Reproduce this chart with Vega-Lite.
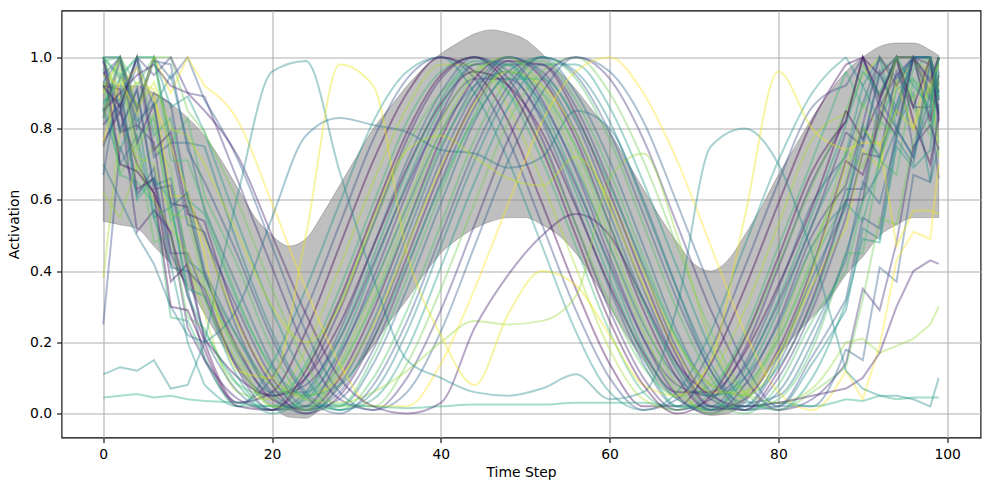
{
"$schema": "https://vega.github.io/schema/vega-lite/v6.json",
"width": 919, "height": 427,
"autosize": {"type": "none"},
"padding": {"left": 61.5, "top": 10.5, "right": 8.5, "bottom": 52.5},
"background": "white",
"config": {
"view": {"stroke": "black", "strokeWidth": 1.1},
"axis": {"labelFont": "DejaVu Sans", "labelFontSize": 13.9, "labelColor": "black", "titleFont": "DejaVu Sans", "titleFontSize": 13.9, "titleFontWeight": "normal", "titleColor": "black", "tickColor": "black", "tickSize": 4.9, "tickWidth": 1.1, "gridColor": "#b0b0b0", "gridWidth": 1.1, "domain": false, "labelPadding": 4.9}
},
"datasets": {
"band": [
{"t":0,"lo":0.54,"hi":0.93},{"t":2,"lo":0.53,"hi":0.92},{"t":4,"lo":0.52,"hi":0.92},{"t":6,"lo":0.47,"hi":0.9},{"t":8,"lo":0.42,"hi":0.87},{"t":10,"lo":0.36,"hi":0.83},{"t":12,"lo":0.28,"hi":0.78},{"t":14,"lo":0.2,"hi":0.71},{"t":16,"lo":0.12,"hi":0.63},{"t":18,"lo":0.06,"hi":0.55},{"t":20,"lo":0.02,"hi":0.5},{"t":22,"lo":-0.01,"hi":0.47},{"t":24,"lo":-0.013,"hi":0.49},{"t":26,"lo":0.02,"hi":0.56},{"t":28,"lo":0.07,"hi":0.64},{"t":30,"lo":0.13,"hi":0.72},{"t":32,"lo":0.19,"hi":0.8},{"t":34,"lo":0.26,"hi":0.86},{"t":36,"lo":0.32,"hi":0.92},{"t":38,"lo":0.39,"hi":0.97},{"t":40,"lo":0.45,"hi":1.01},{"t":42,"lo":0.49,"hi":1.04},{"t":44,"lo":0.52,"hi":1.066},{"t":46,"lo":0.54,"hi":1.077},{"t":48,"lo":0.55,"hi":1.068},{"t":50,"lo":0.55,"hi":1.05},{"t":52,"lo":0.53,"hi":1.01},{"t":54,"lo":0.5,"hi":0.96},{"t":56,"lo":0.45,"hi":0.91},{"t":58,"lo":0.38,"hi":0.85},{"t":60,"lo":0.3,"hi":0.79},{"t":62,"lo":0.22,"hi":0.71},{"t":64,"lo":0.15,"hi":0.63},{"t":66,"lo":0.08,"hi":0.55},{"t":68,"lo":0.04,"hi":0.48},{"t":70,"lo":0.01,"hi":0.42},{"t":72,"lo":-0.005,"hi":0.4},{"t":74,"lo":0.0,"hi":0.43},{"t":76,"lo":0.03,"hi":0.5},{"t":78,"lo":0.09,"hi":0.58},{"t":80,"lo":0.16,"hi":0.67},{"t":82,"lo":0.22,"hi":0.75},{"t":84,"lo":0.27,"hi":0.83},{"t":86,"lo":0.32,"hi":0.9},{"t":88,"lo":0.39,"hi":0.96},{"t":90,"lo":0.44,"hi":1.0},{"t":92,"lo":0.5,"hi":1.03},{"t":94,"lo":0.53,"hi":1.04},{"t":96,"lo":0.55,"hi":1.04},{"t":98,"lo":0.55,"hi":1.02},{"t":99,"lo":0.55,"hi":1.005}
],
"lines": [
{"k":17,"t":0,"v":0.85},{"k":17,"t":2,"v":0.7},{"k":17,"t":4,"v":0.78},{"k":17,"t":6,"v":0.55},{"k":17,"t":8,"v":0.42},{"k":17,"t":10,"v":0.2},{"k":17,"t":12,"v":0.08},{"k":17,"t":16,"v":0.02},{"k":17,"t":20,"v":0.14},{"k":17,"t":24,"v":0.35},{"k":17,"t":28,"v":0.59},{"k":17,"t":32,"v":0.82},{"k":17,"t":36,"v":0.96},{"k":17,"t":40,"v":1.0},{"k":17,"t":44,"v":0.9},{"k":17,"t":48,"v":0.71},{"k":17,"t":52,"v":0.47},{"k":17,"t":56,"v":0.23},{"k":17,"t":60,"v":0.06},{"k":17,"t":64,"v":0.01},{"k":17,"t":68,"v":0.06},{"k":17,"t":72,"v":0.23},{"k":17,"t":76,"v":0.47},{"k":17,"t":80,"v":0.71},{"k":17,"t":84,"v":0.9},{"k":17,"t":88,"v":1.0},{"k":17,"t":90,"v":0.92},{"k":17,"t":92,"v":1.0},{"k":17,"t":94,"v":0.8},{"k":17,"t":96,"v":0.9},{"k":17,"t":98,"v":0.65},{"k":17,"t":99,"v":0.75},
{"k":8,"t":0,"v":0.25},{"k":8,"t":2,"v":0.75},{"k":8,"t":4,"v":0.62},{"k":8,"t":6,"v":0.66},{"k":8,"t":8,"v":0.45},{"k":8,"t":10,"v":0.35},{"k":8,"t":12,"v":0.15},{"k":8,"t":16,"v":0.03},{"k":8,"t":20,"v":0.1},{"k":8,"t":24,"v":0.29},{"k":8,"t":28,"v":0.53},{"k":8,"t":32,"v":0.77},{"k":8,"t":36,"v":0.94},{"k":8,"t":40,"v":1.0},{"k":8,"t":44,"v":0.94},{"k":8,"t":48,"v":0.77},{"k":8,"t":52,"v":0.53},{"k":8,"t":56,"v":0.29},{"k":8,"t":60,"v":0.1},{"k":8,"t":64,"v":0.01},{"k":8,"t":68,"v":0.04},{"k":8,"t":72,"v":0.18},{"k":8,"t":76,"v":0.41},{"k":8,"t":80,"v":0.65},{"k":8,"t":84,"v":0.86},{"k":8,"t":88,"v":0.92},{"k":8,"t":90,"v":1.0},{"k":8,"t":92,"v":0.88},{"k":8,"t":94,"v":1.0},{"k":8,"t":96,"v":0.74},{"k":8,"t":98,"v":0.85},{"k":8,"t":99,"v":0.66},
{"k":0,"t":0,"v":0.76},{"k":0,"t":2,"v":0.85},{"k":0,"t":4,"v":0.7},{"k":0,"t":6,"v":0.62},{"k":0,"t":8,"v":0.5},{"k":0,"t":10,"v":0.33},{"k":0,"t":12,"v":0.2},{"k":0,"t":16,"v":0.03},{"k":0,"t":20,"v":0.06},{"k":0,"t":24,"v":0.23},{"k":0,"t":28,"v":0.47},{"k":0,"t":32,"v":0.71},{"k":0,"t":36,"v":0.9},{"k":0,"t":40,"v":1.0},{"k":0,"t":44,"v":0.96},{"k":0,"t":48,"v":0.82},{"k":0,"t":52,"v":0.59},{"k":0,"t":56,"v":0.35},{"k":0,"t":60,"v":0.14},{"k":0,"t":64,"v":0.02},{"k":0,"t":68,"v":0.02},{"k":0,"t":72,"v":0.14},{"k":0,"t":76,"v":0.35},{"k":0,"t":80,"v":0.59},{"k":0,"t":84,"v":0.82},{"k":0,"t":88,"v":0.98},{"k":0,"t":90,"v":1.0},{"k":0,"t":92,"v":0.95},{"k":0,"t":94,"v":1.0},{"k":0,"t":96,"v":0.82},{"k":0,"t":98,"v":0.7},{"k":0,"t":99,"v":0.83},
{"k":29,"t":0,"v":0.38},{"k":29,"t":2,"v":0.8},{"k":29,"t":4,"v":0.72},{"k":29,"t":6,"v":0.7},{"k":29,"t":8,"v":0.55},{"k":29,"t":10,"v":0.42},{"k":29,"t":12,"v":0.28},{"k":29,"t":16,"v":0.06},{"k":29,"t":20,"v":0.04},{"k":29,"t":24,"v":0.18},{"k":29,"t":28,"v":0.41},{"k":29,"t":32,"v":0.65},{"k":29,"t":36,"v":0.86},{"k":29,"t":40,"v":0.98},{"k":29,"t":44,"v":0.98},{"k":29,"t":48,"v":0.86},{"k":29,"t":52,"v":0.65},{"k":29,"t":56,"v":0.41},{"k":29,"t":60,"v":0.18},{"k":29,"t":64,"v":0.04},{"k":29,"t":68,"v":0.01},{"k":29,"t":72,"v":0.1},{"k":29,"t":76,"v":0.29},{"k":29,"t":80,"v":0.53},{"k":29,"t":84,"v":0.77},{"k":29,"t":88,"v":0.84},{"k":29,"t":90,"v":0.95},{"k":29,"t":92,"v":1.0},{"k":29,"t":94,"v":0.92},{"k":29,"t":96,"v":0.99},{"k":29,"t":98,"v":0.96},{"k":29,"t":99,"v":0.72},
{"k":22,"t":0,"v":0.97},{"k":22,"t":2,"v":0.67},{"k":22,"t":4,"v":0.65},{"k":22,"t":6,"v":0.59},{"k":22,"t":8,"v":0.27},{"k":22,"t":10,"v":0.26},{"k":22,"t":12,"v":0.16},{"k":22,"t":16,"v":0.02},{"k":22,"t":20,"v":0.02},{"k":22,"t":24,"v":0.14},{"k":22,"t":28,"v":0.35},{"k":22,"t":32,"v":0.59},{"k":22,"t":36,"v":0.82},{"k":22,"t":40,"v":0.96},{"k":22,"t":44,"v":1.0},{"k":22,"t":48,"v":0.9},{"k":22,"t":52,"v":0.71},{"k":22,"t":56,"v":0.47},{"k":22,"t":60,"v":0.23},{"k":22,"t":64,"v":0.06},{"k":22,"t":68,"v":0.01},{"k":22,"t":72,"v":0.06},{"k":22,"t":76,"v":0.23},{"k":22,"t":80,"v":0.47},{"k":22,"t":84,"v":0.71},{"k":22,"t":88,"v":0.96},{"k":22,"t":90,"v":0.86},{"k":22,"t":92,"v":0.96},{"k":22,"t":94,"v":1.0},{"k":22,"t":96,"v":1.0},{"k":22,"t":98,"v":0.8},{"k":22,"t":99,"v":0.91},
{"k":4,"t":0,"v":0.81},{"k":4,"t":2,"v":0.87},{"k":4,"t":4,"v":0.51},{"k":4,"t":6,"v":0.57},{"k":4,"t":8,"v":0.51},{"k":4,"t":10,"v":0.24},{"k":4,"t":12,"v":0.15},{"k":4,"t":16,"v":0.04},{"k":4,"t":20,"v":0.01},{"k":4,"t":24,"v":0.1},{"k":4,"t":28,"v":0.29},{"k":4,"t":32,"v":0.53},{"k":4,"t":36,"v":0.77},{"k":4,"t":40,"v":0.94},{"k":4,"t":44,"v":1.0},{"k":4,"t":48,"v":0.94},{"k":4,"t":52,"v":0.77},{"k":4,"t":56,"v":0.53},{"k":4,"t":60,"v":0.29},{"k":4,"t":64,"v":0.1},{"k":4,"t":68,"v":0.01},{"k":4,"t":72,"v":0.04},{"k":4,"t":76,"v":0.18},{"k":4,"t":80,"v":0.41},{"k":4,"t":84,"v":0.65},{"k":4,"t":88,"v":0.82},{"k":4,"t":90,"v":1.0},{"k":4,"t":92,"v":0.86},{"k":4,"t":94,"v":0.95},{"k":4,"t":96,"v":1.0},{"k":4,"t":98,"v":0.98},{"k":4,"t":99,"v":0.82},
{"k":25,"t":0,"v":0.93},{"k":25,"t":2,"v":0.67},{"k":25,"t":4,"v":0.76},{"k":25,"t":6,"v":0.48},{"k":25,"t":8,"v":0.5},{"k":25,"t":10,"v":0.27},{"k":25,"t":12,"v":0.24},{"k":25,"t":16,"v":0.08},{"k":25,"t":20,"v":0.05},{"k":25,"t":24,"v":0.13},{"k":25,"t":28,"v":0.31},{"k":25,"t":32,"v":0.53},{"k":25,"t":36,"v":0.75},{"k":25,"t":40,"v":0.9},{"k":25,"t":44,"v":0.96},{"k":25,"t":48,"v":0.9},{"k":25,"t":52,"v":0.75},{"k":25,"t":56,"v":0.53},{"k":25,"t":60,"v":0.31},{"k":25,"t":64,"v":0.13},{"k":25,"t":68,"v":0.05},{"k":25,"t":72,"v":0.08},{"k":25,"t":76,"v":0.21},{"k":25,"t":80,"v":0.42},{"k":25,"t":84,"v":0.64},{"k":25,"t":88,"v":0.85},{"k":25,"t":90,"v":0.98},{"k":25,"t":92,"v":0.89},{"k":25,"t":94,"v":1.0},{"k":25,"t":96,"v":0.86},{"k":25,"t":98,"v":0.78},{"k":25,"t":99,"v":0.93},
{"k":11,"t":0,"v":0.75},{"k":11,"t":2,"v":0.87},{"k":11,"t":4,"v":0.61},{"k":11,"t":6,"v":0.69},{"k":11,"t":8,"v":0.41},{"k":11,"t":10,"v":0.4},{"k":11,"t":12,"v":0.21},{"k":11,"t":16,"v":0.06},{"k":11,"t":20,"v":0.01},{"k":11,"t":24,"v":0.06},{"k":11,"t":28,"v":0.23},{"k":11,"t":32,"v":0.47},{"k":11,"t":36,"v":0.71},{"k":11,"t":40,"v":0.9},{"k":11,"t":44,"v":1.0},{"k":11,"t":48,"v":0.96},{"k":11,"t":52,"v":0.82},{"k":11,"t":56,"v":0.59},{"k":11,"t":60,"v":0.35},{"k":11,"t":64,"v":0.14},{"k":11,"t":68,"v":0.02},{"k":11,"t":72,"v":0.02},{"k":11,"t":76,"v":0.14},{"k":11,"t":80,"v":0.35},{"k":11,"t":84,"v":0.59},{"k":11,"t":88,"v":0.72},{"k":11,"t":90,"v":0.87},{"k":11,"t":92,"v":1.0},{"k":11,"t":94,"v":0.94},{"k":11,"t":96,"v":1.0},{"k":11,"t":98,"v":1.0},{"k":11,"t":99,"v":0.84},
{"k":1,"t":0,"v":0.92},{"k":1,"t":2,"v":0.91},{"k":1,"t":4,"v":0.63},{"k":1,"t":6,"v":0.66},{"k":1,"t":8,"v":0.37},{"k":1,"t":10,"v":0.42},{"k":1,"t":12,"v":0.21},{"k":1,"t":16,"v":0.1},{"k":1,"t":20,"v":0.05},{"k":1,"t":24,"v":0.1},{"k":1,"t":28,"v":0.25},{"k":1,"t":32,"v":0.47},{"k":1,"t":36,"v":0.69},{"k":1,"t":40,"v":0.87},{"k":1,"t":44,"v":0.96},{"k":1,"t":48,"v":0.92},{"k":1,"t":52,"v":0.79},{"k":1,"t":56,"v":0.58},{"k":1,"t":60,"v":0.36},{"k":1,"t":64,"v":0.17},{"k":1,"t":68,"v":0.06},{"k":1,"t":72,"v":0.06},{"k":1,"t":76,"v":0.17},{"k":1,"t":80,"v":0.36},{"k":1,"t":84,"v":0.58},{"k":1,"t":88,"v":0.85},{"k":1,"t":90,"v":0.77},{"k":1,"t":92,"v":0.88},{"k":1,"t":94,"v":1.0},{"k":1,"t":96,"v":1.0},{"k":1,"t":98,"v":0.82},{"k":1,"t":99,"v":0.95},
{"k":19,"t":0,"v":0.86},{"k":19,"t":2,"v":0.74},{"k":19,"t":4,"v":0.85},{"k":19,"t":6,"v":0.55},{"k":19,"t":8,"v":0.58},{"k":19,"t":10,"v":0.35},{"k":19,"t":12,"v":0.33},{"k":19,"t":16,"v":0.1},{"k":19,"t":20,"v":0.01},{"k":19,"t":24,"v":0.04},{"k":19,"t":28,"v":0.18},{"k":19,"t":32,"v":0.41},{"k":19,"t":36,"v":0.65},{"k":19,"t":40,"v":0.86},{"k":19,"t":44,"v":0.98},{"k":19,"t":48,"v":0.98},{"k":19,"t":52,"v":0.86},{"k":19,"t":56,"v":0.65},{"k":19,"t":60,"v":0.41},{"k":19,"t":64,"v":0.18},{"k":19,"t":68,"v":0.04},{"k":19,"t":72,"v":0.01},{"k":19,"t":76,"v":0.1},{"k":19,"t":80,"v":0.29},{"k":19,"t":84,"v":0.53},{"k":19,"t":88,"v":0.73},{"k":19,"t":90,"v":0.92},{"k":19,"t":92,"v":0.82},{"k":19,"t":94,"v":0.93},{"k":19,"t":96,"v":1.0},{"k":19,"t":98,"v":1.0},{"k":19,"t":99,"v":0.88},
{"k":6,"t":0,"v":1.0},{"k":6,"t":2,"v":0.79},{"k":6,"t":4,"v":0.81},{"k":6,"t":6,"v":0.76},{"k":6,"t":8,"v":0.45},{"k":6,"t":10,"v":0.45},{"k":6,"t":12,"v":0.33},{"k":6,"t":16,"v":0.13},{"k":6,"t":20,"v":0.05},{"k":6,"t":24,"v":0.08},{"k":6,"t":28,"v":0.21},{"k":6,"t":32,"v":0.42},{"k":6,"t":36,"v":0.64},{"k":6,"t":40,"v":0.83},{"k":6,"t":44,"v":0.94},{"k":6,"t":48,"v":0.94},{"k":6,"t":52,"v":0.83},{"k":6,"t":56,"v":0.64},{"k":6,"t":60,"v":0.42},{"k":6,"t":64,"v":0.21},{"k":6,"t":68,"v":0.08},{"k":6,"t":72,"v":0.05},{"k":6,"t":76,"v":0.13},{"k":6,"t":80,"v":0.31},{"k":6,"t":84,"v":0.53},{"k":6,"t":88,"v":0.79},{"k":6,"t":90,"v":0.75},{"k":6,"t":92,"v":0.96},{"k":6,"t":94,"v":0.84},{"k":6,"t":96,"v":1.0},{"k":6,"t":98,"v":0.88},{"k":6,"t":99,"v":1.0},
{"k":27,"t":0,"v":0.91},{"k":27,"t":2,"v":1.0},{"k":27,"t":4,"v":0.68},{"k":27,"t":6,"v":0.75},{"k":27,"t":8,"v":0.69},{"k":27,"t":10,"v":0.42},{"k":27,"t":12,"v":0.32},{"k":27,"t":16,"v":0.14},{"k":27,"t":20,"v":0.02},{"k":27,"t":24,"v":0.02},{"k":27,"t":28,"v":0.14},{"k":27,"t":32,"v":0.35},{"k":27,"t":36,"v":0.59},{"k":27,"t":40,"v":0.82},{"k":27,"t":44,"v":0.96},{"k":27,"t":48,"v":1.0},{"k":27,"t":52,"v":0.9},{"k":27,"t":56,"v":0.71},{"k":27,"t":60,"v":0.47},{"k":27,"t":64,"v":0.23},{"k":27,"t":68,"v":0.06},{"k":27,"t":72,"v":0.01},{"k":27,"t":76,"v":0.06},{"k":27,"t":80,"v":0.23},{"k":27,"t":84,"v":0.47},{"k":27,"t":88,"v":0.65},{"k":27,"t":90,"v":0.87},{"k":27,"t":92,"v":0.8},{"k":27,"t":94,"v":1.0},{"k":27,"t":96,"v":0.88},{"k":27,"t":98,"v":1.0},{"k":27,"t":99,"v":0.93},
{"k":14,"t":0,"v":1.0},{"k":14,"t":2,"v":0.79},{"k":14,"t":4,"v":0.91},{"k":14,"t":6,"v":0.64},{"k":14,"t":8,"v":0.66},{"k":14,"t":10,"v":0.43},{"k":14,"t":12,"v":0.39},{"k":14,"t":16,"v":0.17},{"k":14,"t":20,"v":0.06},{"k":14,"t":24,"v":0.06},{"k":14,"t":28,"v":0.17},{"k":14,"t":32,"v":0.36},{"k":14,"t":36,"v":0.58},{"k":14,"t":40,"v":0.79},{"k":14,"t":44,"v":0.92},{"k":14,"t":48,"v":0.96},{"k":14,"t":52,"v":0.87},{"k":14,"t":56,"v":0.69},{"k":14,"t":60,"v":0.47},{"k":14,"t":64,"v":0.25},{"k":14,"t":68,"v":0.1},{"k":14,"t":72,"v":0.05},{"k":14,"t":76,"v":0.1},{"k":14,"t":80,"v":0.25},{"k":14,"t":84,"v":0.47},{"k":14,"t":88,"v":0.59},{"k":14,"t":90,"v":0.76},{"k":14,"t":92,"v":0.95},{"k":14,"t":94,"v":0.86},{"k":14,"t":96,"v":1.0},{"k":14,"t":98,"v":1.0},{"k":14,"t":99,"v":0.84},
{"k":2,"t":0,"v":0.83},{"k":2,"t":2,"v":0.99},{"k":2,"t":4,"v":0.76},{"k":2,"t":6,"v":0.87},{"k":2,"t":8,"v":0.59},{"k":2,"t":10,"v":0.58},{"k":2,"t":12,"v":0.39},{"k":2,"t":16,"v":0.18},{"k":2,"t":20,"v":0.04},{"k":2,"t":24,"v":0.01},{"k":2,"t":28,"v":0.1},{"k":2,"t":32,"v":0.29},{"k":2,"t":36,"v":0.53},{"k":2,"t":40,"v":0.77},{"k":2,"t":44,"v":0.94},{"k":2,"t":48,"v":1.0},{"k":2,"t":52,"v":0.94},{"k":2,"t":56,"v":0.77},{"k":2,"t":60,"v":0.53},{"k":2,"t":64,"v":0.29},{"k":2,"t":68,"v":0.1},{"k":2,"t":72,"v":0.01},{"k":2,"t":76,"v":0.04},{"k":2,"t":80,"v":0.18},{"k":2,"t":84,"v":0.41},{"k":2,"t":88,"v":0.71},{"k":2,"t":90,"v":0.67},{"k":2,"t":92,"v":0.82},{"k":2,"t":94,"v":1.0},{"k":2,"t":96,"v":1.0},{"k":2,"t":98,"v":0.9},{"k":2,"t":99,"v":1.0},
{"k":23,"t":0,"v":0.99},{"k":23,"t":2,"v":1.0},{"k":23,"t":4,"v":0.77},{"k":23,"t":6,"v":0.83},{"k":23,"t":8,"v":0.54},{"k":23,"t":10,"v":0.59},{"k":23,"t":12,"v":0.38},{"k":23,"t":16,"v":0.21},{"k":23,"t":20,"v":0.08},{"k":23,"t":24,"v":0.05},{"k":23,"t":28,"v":0.13},{"k":23,"t":32,"v":0.31},{"k":23,"t":36,"v":0.53},{"k":23,"t":40,"v":0.75},{"k":23,"t":44,"v":0.9},{"k":23,"t":48,"v":0.96},{"k":23,"t":52,"v":0.9},{"k":23,"t":56,"v":0.75},{"k":23,"t":60,"v":0.53},{"k":23,"t":64,"v":0.31},{"k":23,"t":68,"v":0.13},{"k":23,"t":72,"v":0.05},{"k":23,"t":76,"v":0.08},{"k":23,"t":80,"v":0.21},{"k":23,"t":84,"v":0.42},{"k":23,"t":88,"v":0.6},{"k":23,"t":90,"v":0.81},{"k":23,"t":92,"v":0.71},{"k":23,"t":94,"v":0.85},{"k":23,"t":96,"v":1.0},{"k":23,"t":98,"v":1.0},{"k":23,"t":99,"v":0.88},
{"k":9,"t":0,"v":0.92},{"k":9,"t":2,"v":0.84},{"k":9,"t":4,"v":0.98},{"k":9,"t":6,"v":0.72},{"k":9,"t":8,"v":0.76},{"k":9,"t":10,"v":0.53},{"k":9,"t":12,"v":0.51},{"k":9,"t":16,"v":0.23},{"k":9,"t":20,"v":0.06},{"k":9,"t":24,"v":0.01},{"k":9,"t":28,"v":0.06},{"k":9,"t":32,"v":0.23},{"k":9,"t":36,"v":0.47},{"k":9,"t":40,"v":0.71},{"k":9,"t":44,"v":0.9},{"k":9,"t":48,"v":1.0},{"k":9,"t":52,"v":0.96},{"k":9,"t":56,"v":0.82},{"k":9,"t":60,"v":0.59},{"k":9,"t":64,"v":0.35},{"k":9,"t":68,"v":0.14},{"k":9,"t":72,"v":0.02},{"k":9,"t":76,"v":0.02},{"k":9,"t":80,"v":0.14},{"k":9,"t":84,"v":0.35},{"k":9,"t":88,"v":0.63},{"k":9,"t":90,"v":0.63},{"k":9,"t":92,"v":0.88},{"k":9,"t":94,"v":0.8},{"k":9,"t":96,"v":1.0},{"k":9,"t":98,"v":0.94},{"k":9,"t":99,"v":1.0},
{"k":31,"t":0,"v":1.0},{"k":31,"t":2,"v":0.88},{"k":31,"t":4,"v":0.93},{"k":31,"t":6,"v":0.91},{"k":31,"t":8,"v":0.61},{"k":31,"t":10,"v":0.61},{"k":31,"t":12,"v":0.49},{"k":31,"t":16,"v":0.25},{"k":31,"t":20,"v":0.1},{"k":31,"t":24,"v":0.05},{"k":31,"t":28,"v":0.1},{"k":31,"t":32,"v":0.25},{"k":31,"t":36,"v":0.47},{"k":31,"t":40,"v":0.69},{"k":31,"t":44,"v":0.87},{"k":31,"t":48,"v":0.96},{"k":31,"t":52,"v":0.92},{"k":31,"t":56,"v":0.79},{"k":31,"t":60,"v":0.58},{"k":31,"t":64,"v":0.36},{"k":31,"t":68,"v":0.17},{"k":31,"t":72,"v":0.06},{"k":31,"t":76,"v":0.06},{"k":31,"t":80,"v":0.17},{"k":31,"t":84,"v":0.36},{"k":31,"t":88,"v":0.52},{"k":31,"t":90,"v":0.74},{"k":31,"t":92,"v":0.69},{"k":31,"t":94,"v":0.93},{"k":31,"t":96,"v":0.8},{"k":31,"t":98,"v":1.0},{"k":31,"t":99,"v":0.91},
{"k":7,"t":0,"v":0.95},{"k":7,"t":2,"v":1.0},{"k":7,"t":4,"v":0.8},{"k":7,"t":6,"v":0.9},{"k":7,"t":8,"v":0.87},{"k":7,"t":10,"v":0.6},{"k":7,"t":12,"v":0.5},{"k":7,"t":16,"v":0.29},{"k":7,"t":20,"v":0.1},{"k":7,"t":24,"v":0.01},{"k":7,"t":28,"v":0.04},{"k":7,"t":32,"v":0.18},{"k":7,"t":36,"v":0.41},{"k":7,"t":40,"v":0.65},{"k":7,"t":44,"v":0.86},{"k":7,"t":48,"v":0.98},{"k":7,"t":52,"v":0.98},{"k":7,"t":56,"v":0.86},{"k":7,"t":60,"v":0.65},{"k":7,"t":64,"v":0.41},{"k":7,"t":68,"v":0.18},{"k":7,"t":72,"v":0.04},{"k":7,"t":76,"v":0.01},{"k":7,"t":80,"v":0.1},{"k":7,"t":84,"v":0.29},{"k":7,"t":88,"v":0.55},{"k":7,"t":90,"v":0.73},{"k":7,"t":92,"v":0.72},{"k":7,"t":94,"v":0.96},{"k":7,"t":96,"v":0.86},{"k":7,"t":98,"v":0.86},{"k":7,"t":99,"v":1.0},
{"k":21,"t":0,"v":1.0},{"k":21,"t":2,"v":0.86},{"k":21,"t":4,"v":1.0},{"k":21,"t":6,"v":0.78},{"k":21,"t":8,"v":0.83},{"k":21,"t":10,"v":0.6},{"k":21,"t":12,"v":0.56},{"k":21,"t":16,"v":0.31},{"k":21,"t":20,"v":0.13},{"k":21,"t":24,"v":0.05},{"k":21,"t":28,"v":0.08},{"k":21,"t":32,"v":0.21},{"k":21,"t":36,"v":0.42},{"k":21,"t":40,"v":0.64},{"k":21,"t":44,"v":0.83},{"k":21,"t":48,"v":0.94},{"k":21,"t":52,"v":0.94},{"k":21,"t":56,"v":0.83},{"k":21,"t":60,"v":0.64},{"k":21,"t":64,"v":0.42},{"k":21,"t":68,"v":0.21},{"k":21,"t":72,"v":0.08},{"k":21,"t":76,"v":0.05},{"k":21,"t":80,"v":0.13},{"k":21,"t":84,"v":0.31},{"k":21,"t":88,"v":0.59},{"k":21,"t":90,"v":0.54},{"k":21,"t":92,"v":0.71},{"k":21,"t":94,"v":0.91},{"k":21,"t":96,"v":0.94},{"k":21,"t":98,"v":0.84},{"k":21,"t":99,"v":1.0},
{"k":12,"t":0,"v":0.85},{"k":12,"t":2,"v":1.0},{"k":12,"t":4,"v":0.86},{"k":12,"t":6,"v":1.0},{"k":12,"t":8,"v":0.76},{"k":12,"t":10,"v":0.76},{"k":12,"t":12,"v":0.57},{"k":12,"t":16,"v":0.35},{"k":12,"t":20,"v":0.14},{"k":12,"t":24,"v":0.02},{"k":12,"t":28,"v":0.02},{"k":12,"t":32,"v":0.14},{"k":12,"t":36,"v":0.35},{"k":12,"t":40,"v":0.59},{"k":12,"t":44,"v":0.82},{"k":12,"t":48,"v":0.96},{"k":12,"t":52,"v":1.0},{"k":12,"t":56,"v":0.9},{"k":12,"t":60,"v":0.71},{"k":12,"t":64,"v":0.47},{"k":12,"t":68,"v":0.23},{"k":12,"t":72,"v":0.06},{"k":12,"t":76,"v":0.01},{"k":12,"t":80,"v":0.06},{"k":12,"t":84,"v":0.23},{"k":12,"t":88,"v":0.43},{"k":12,"t":90,"v":0.65},{"k":12,"t":92,"v":0.59},{"k":12,"t":94,"v":0.77},{"k":12,"t":96,"v":1.0},{"k":12,"t":98,"v":1.0},{"k":12,"t":99,"v":0.9},
{"k":24,"t":0,"v":1.0},{"k":24,"t":2,"v":1.0},{"k":24,"t":4,"v":0.92},{"k":24,"t":6,"v":1.0},{"k":24,"t":8,"v":0.76},{"k":24,"t":10,"v":0.83},{"k":24,"t":12,"v":0.61},{"k":24,"t":16,"v":0.41},{"k":24,"t":20,"v":0.18},{"k":24,"t":24,"v":0.04},{"k":24,"t":28,"v":0.01},{"k":24,"t":32,"v":0.1},{"k":24,"t":36,"v":0.29},{"k":24,"t":40,"v":0.53},{"k":24,"t":44,"v":0.77},{"k":24,"t":48,"v":0.94},{"k":24,"t":52,"v":1.0},{"k":24,"t":56,"v":0.94},{"k":24,"t":60,"v":0.77},{"k":24,"t":64,"v":0.53},{"k":24,"t":68,"v":0.29},{"k":24,"t":72,"v":0.1},{"k":24,"t":76,"v":0.01},{"k":24,"t":80,"v":0.04},{"k":24,"t":84,"v":0.18},{"k":24,"t":88,"v":0.45},{"k":24,"t":90,"v":0.45},{"k":24,"t":92,"v":0.71},{"k":24,"t":94,"v":0.67},{"k":24,"t":96,"v":0.94},{"k":24,"t":98,"v":0.88},{"k":24,"t":99,"v":1.0},
{"k":15,"t":0,"v":0.88},{"k":15,"t":2,"v":0.88},{"k":15,"t":4,"v":1.0},{"k":15,"t":6,"v":0.86},{"k":15,"t":8,"v":0.95},{"k":15,"t":10,"v":0.76},{"k":15,"t":12,"v":0.75},{"k":15,"t":16,"v":0.47},{"k":15,"t":20,"v":0.23},{"k":15,"t":24,"v":0.06},{"k":15,"t":28,"v":0.01},{"k":15,"t":32,"v":0.06},{"k":15,"t":36,"v":0.23},{"k":15,"t":40,"v":0.47},{"k":15,"t":44,"v":0.71},{"k":15,"t":48,"v":0.9},{"k":15,"t":52,"v":1.0},{"k":15,"t":56,"v":0.96},{"k":15,"t":60,"v":0.82},{"k":15,"t":64,"v":0.59},{"k":15,"t":68,"v":0.35},{"k":15,"t":72,"v":0.14},{"k":15,"t":76,"v":0.02},{"k":15,"t":80,"v":0.02},{"k":15,"t":84,"v":0.14},{"k":15,"t":88,"v":0.29},{"k":15,"t":90,"v":0.52},{"k":15,"t":92,"v":0.49},{"k":15,"t":94,"v":0.77},{"k":15,"t":96,"v":0.7},{"k":15,"t":98,"v":0.98},{"k":15,"t":99,"v":0.89},
{"k":18,"t":0,"v":1.0},{"k":18,"t":2,"v":0.94},{"k":18,"t":4,"v":1.0},{"k":18,"t":6,"v":1.0},{"k":18,"t":8,"v":0.86},{"k":18,"t":10,"v":0.89},{"k":18,"t":12,"v":0.79},{"k":18,"t":16,"v":0.53},{"k":18,"t":20,"v":0.29},{"k":18,"t":24,"v":0.1},{"k":18,"t":28,"v":0.01},{"k":18,"t":32,"v":0.04},{"k":18,"t":36,"v":0.18},{"k":18,"t":40,"v":0.41},{"k":18,"t":44,"v":0.65},{"k":18,"t":48,"v":0.86},{"k":18,"t":52,"v":0.98},{"k":18,"t":56,"v":0.98},{"k":18,"t":60,"v":0.86},{"k":18,"t":64,"v":0.65},{"k":18,"t":68,"v":0.41},{"k":18,"t":72,"v":0.18},{"k":18,"t":76,"v":0.04},{"k":18,"t":80,"v":0.01},{"k":18,"t":84,"v":0.1},{"k":18,"t":88,"v":0.31},{"k":18,"t":90,"v":0.49},{"k":18,"t":92,"v":0.48},{"k":18,"t":94,"v":0.75},{"k":18,"t":96,"v":0.69},{"k":18,"t":98,"v":0.74},{"k":18,"t":99,"v":0.96},
{"k":26,"t":0,"v":0.85},{"k":26,"t":2,"v":1.0},{"k":26,"t":4,"v":0.86},{"k":26,"t":6,"v":1.0},{"k":26,"t":8,"v":1.0},{"k":26,"t":10,"v":0.85},{"k":26,"t":12,"v":0.79},{"k":26,"t":16,"v":0.59},{"k":26,"t":20,"v":0.35},{"k":26,"t":24,"v":0.14},{"k":26,"t":28,"v":0.02},{"k":26,"t":32,"v":0.02},{"k":26,"t":36,"v":0.14},{"k":26,"t":40,"v":0.35},{"k":26,"t":44,"v":0.59},{"k":26,"t":48,"v":0.82},{"k":26,"t":52,"v":0.96},{"k":26,"t":56,"v":1.0},{"k":26,"t":60,"v":0.9},{"k":26,"t":64,"v":0.71},{"k":26,"t":68,"v":0.47},{"k":26,"t":72,"v":0.23},{"k":26,"t":76,"v":0.06},{"k":26,"t":80,"v":0.01},{"k":26,"t":84,"v":0.06},{"k":26,"t":88,"v":0.13},{"k":26,"t":90,"v":0.32},{"k":26,"t":92,"v":0.55},{"k":26,"t":94,"v":0.53},{"k":26,"t":96,"v":0.76},{"k":26,"t":98,"v":0.92},{"k":26,"t":99,"v":0.76},
{"k":5,"t":0,"v":0.96},{"k":5,"t":2,"v":0.86},{"k":5,"t":4,"v":1.0},{"k":5,"t":6,"v":0.95},{"k":5,"t":8,"v":1.0},{"k":5,"t":10,"v":0.9},{"k":5,"t":12,"v":0.89},{"k":5,"t":16,"v":0.65},{"k":5,"t":20,"v":0.41},{"k":5,"t":24,"v":0.18},{"k":5,"t":28,"v":0.04},{"k":5,"t":32,"v":0.01},{"k":5,"t":36,"v":0.1},{"k":5,"t":40,"v":0.29},{"k":5,"t":44,"v":0.53},{"k":5,"t":48,"v":0.77},{"k":5,"t":52,"v":0.94},{"k":5,"t":56,"v":1.0},{"k":5,"t":60,"v":0.94},{"k":5,"t":64,"v":0.77},{"k":5,"t":68,"v":0.53},{"k":5,"t":72,"v":0.29},{"k":5,"t":76,"v":0.1},{"k":5,"t":80,"v":0.01},{"k":5,"t":84,"v":0.04},{"k":5,"t":88,"v":0.14},{"k":5,"t":90,"v":0.35},{"k":5,"t":92,"v":0.29},{"k":5,"t":94,"v":0.48},{"k":5,"t":96,"v":0.75},{"k":5,"t":98,"v":0.81},{"k":5,"t":99,"v":0.74},
{"k":10,"t":0,"v":0.67},{"k":10,"t":2,"v":0.95},{"k":10,"t":4,"v":0.86},{"k":10,"t":6,"v":1.0},{"k":10,"t":8,"v":0.94},{"k":10,"t":10,"v":1.0},{"k":10,"t":12,"v":0.88},{"k":10,"t":16,"v":0.71},{"k":10,"t":20,"v":0.47},{"k":10,"t":24,"v":0.23},{"k":10,"t":28,"v":0.06},{"k":10,"t":32,"v":0.01},{"k":10,"t":36,"v":0.06},{"k":10,"t":40,"v":0.23},{"k":10,"t":44,"v":0.47},{"k":10,"t":48,"v":0.71},{"k":10,"t":52,"v":0.9},{"k":10,"t":56,"v":1.0},{"k":10,"t":60,"v":0.96},{"k":10,"t":64,"v":0.82},{"k":10,"t":68,"v":0.59},{"k":10,"t":72,"v":0.35},{"k":10,"t":76,"v":0.14},{"k":10,"t":80,"v":0.02},{"k":10,"t":84,"v":0.02},{"k":10,"t":88,"v":0.18},{"k":10,"t":90,"v":0.15},{"k":10,"t":92,"v":0.41},{"k":10,"t":94,"v":0.37},{"k":10,"t":96,"v":0.67},{"k":10,"t":98,"v":0.65},{"k":10,"t":99,"v":0.87},
{"k":33,"t":0,"v":0.76},{"k":33,"t":2,"v":0.94},{"k":33,"t":4,"v":0.84},{"k":33,"t":6,"v":1.0},{"k":33,"t":8,"v":0.9},{"k":33,"t":10,"v":1.0},{"k":33,"t":12,"v":0.92},{"k":33,"t":16,"v":0.82},{"k":33,"t":20,"v":0.59},{"k":33,"t":24,"v":0.35},{"k":33,"t":28,"v":0.14},{"k":33,"t":32,"v":0.02},{"k":33,"t":36,"v":0.02},{"k":33,"t":40,"v":0.14},{"k":33,"t":44,"v":0.35},{"k":33,"t":48,"v":0.59},{"k":33,"t":52,"v":0.82},{"k":33,"t":56,"v":0.96},{"k":33,"t":60,"v":1.0},{"k":33,"t":64,"v":0.9},{"k":33,"t":68,"v":0.71},{"k":33,"t":72,"v":0.47},{"k":33,"t":76,"v":0.23},{"k":33,"t":80,"v":0.06},{"k":33,"t":84,"v":0.01},{"k":33,"t":88,"v":0.12},{"k":33,"t":90,"v":0.04},{"k":33,"t":92,"v":0.19},{"k":33,"t":94,"v":0.43},{"k":33,"t":96,"v":0.51},{"k":33,"t":98,"v":0.49},{"k":33,"t":99,"v":0.7},
{"k":20,"t":0,"v":0.045},{"k":20,"t":2,"v":0.05},{"k":20,"t":4,"v":0.055},{"k":20,"t":6,"v":0.045},{"k":20,"t":8,"v":0.05},{"k":20,"t":10,"v":0.04},{"k":20,"t":12,"v":0.035},{"k":20,"t":16,"v":0.03},{"k":20,"t":20,"v":0.02},{"k":20,"t":24,"v":0.02},{"k":20,"t":28,"v":0.025},{"k":20,"t":32,"v":0.02},{"k":20,"t":36,"v":0.015},{"k":20,"t":40,"v":0.02},{"k":20,"t":44,"v":0.025},{"k":20,"t":48,"v":0.025},{"k":20,"t":52,"v":0.025},{"k":20,"t":56,"v":0.03},{"k":20,"t":60,"v":0.03},{"k":20,"t":64,"v":0.03},{"k":20,"t":68,"v":0.02},{"k":20,"t":72,"v":0.02},{"k":20,"t":76,"v":0.02},{"k":20,"t":80,"v":0.03},{"k":20,"t":84,"v":0.02},{"k":20,"t":88,"v":0.04},{"k":20,"t":90,"v":0.035},{"k":20,"t":92,"v":0.05},{"k":20,"t":94,"v":0.04},{"k":20,"t":96,"v":0.045},{"k":20,"t":98,"v":0.045},{"k":20,"t":99,"v":0.045},
{"k":28,"t":0,"v":0.62},{"k":28,"t":2,"v":0.55},{"k":28,"t":4,"v":0.7},{"k":28,"t":6,"v":0.6},{"k":28,"t":8,"v":0.52},{"k":28,"t":10,"v":0.45},{"k":28,"t":12,"v":0.35},{"k":28,"t":16,"v":0.18},{"k":28,"t":20,"v":0.08},{"k":28,"t":24,"v":0.04},{"k":28,"t":28,"v":0.03},{"k":28,"t":32,"v":0.06},{"k":28,"t":36,"v":0.12},{"k":28,"t":40,"v":0.2},{"k":28,"t":44,"v":0.26},{"k":28,"t":48,"v":0.25},{"k":28,"t":52,"v":0.26},{"k":28,"t":56,"v":0.33},{"k":28,"t":60,"v":0.66},{"k":28,"t":64,"v":0.73},{"k":28,"t":68,"v":0.5},{"k":28,"t":72,"v":0.2},{"k":28,"t":76,"v":0.06},{"k":28,"t":80,"v":0.03},{"k":28,"t":84,"v":0.07},{"k":28,"t":88,"v":0.2},{"k":28,"t":90,"v":0.21},{"k":28,"t":92,"v":0.17},{"k":28,"t":94,"v":0.19},{"k":28,"t":96,"v":0.21},{"k":28,"t":98,"v":0.25},{"k":28,"t":99,"v":0.3},
{"k":3,"t":0,"v":0.85},{"k":3,"t":2,"v":0.9},{"k":3,"t":4,"v":0.95},{"k":3,"t":6,"v":0.98},{"k":3,"t":8,"v":0.92},{"k":3,"t":10,"v":0.9},{"k":3,"t":12,"v":0.85},{"k":3,"t":16,"v":0.72},{"k":3,"t":20,"v":0.5},{"k":3,"t":24,"v":0.28},{"k":3,"t":28,"v":0.1},{"k":3,"t":32,"v":0.02},{"k":3,"t":36,"v":0.0},{"k":3,"t":40,"v":0.03},{"k":3,"t":44,"v":0.24},{"k":3,"t":48,"v":0.39},{"k":3,"t":52,"v":0.5},{"k":3,"t":56,"v":0.56},{"k":3,"t":60,"v":0.5},{"k":3,"t":64,"v":0.32},{"k":3,"t":68,"v":0.14},{"k":3,"t":72,"v":0.05},{"k":3,"t":76,"v":0.02},{"k":3,"t":80,"v":0.03},{"k":3,"t":84,"v":0.05},{"k":3,"t":88,"v":0.07},{"k":3,"t":90,"v":0.1},{"k":3,"t":92,"v":0.17},{"k":3,"t":94,"v":0.3},{"k":3,"t":96,"v":0.4},{"k":3,"t":98,"v":0.43},{"k":3,"t":99,"v":0.42},
{"k":16,"t":0,"v":0.11},{"k":16,"t":2,"v":0.13},{"k":16,"t":4,"v":0.12},{"k":16,"t":6,"v":0.15},{"k":16,"t":8,"v":0.07},{"k":16,"t":10,"v":0.08},{"k":16,"t":12,"v":0.2},{"k":16,"t":16,"v":0.62},{"k":16,"t":20,"v":0.96},{"k":16,"t":24,"v":0.99},{"k":16,"t":28,"v":0.68},{"k":16,"t":32,"v":0.38},{"k":16,"t":36,"v":0.15},{"k":16,"t":40,"v":0.1},{"k":16,"t":44,"v":0.06},{"k":16,"t":48,"v":0.05},{"k":16,"t":52,"v":0.07},{"k":16,"t":56,"v":0.11},{"k":16,"t":60,"v":0.04},{"k":16,"t":64,"v":0.06},{"k":16,"t":68,"v":0.3},{"k":16,"t":72,"v":0.75},{"k":16,"t":76,"v":0.8},{"k":16,"t":80,"v":0.7},{"k":16,"t":84,"v":0.45},{"k":16,"t":88,"v":0.12},{"k":16,"t":90,"v":0.07},{"k":16,"t":92,"v":0.05},{"k":16,"t":94,"v":0.05},{"k":16,"t":96,"v":0.04},{"k":16,"t":98,"v":0.02},{"k":16,"t":99,"v":0.1},
{"k":32,"t":0,"v":0.95},{"k":32,"t":2,"v":0.92},{"k":32,"t":4,"v":0.97},{"k":32,"t":6,"v":0.88},{"k":32,"t":8,"v":0.75},{"k":32,"t":10,"v":0.62},{"k":32,"t":12,"v":0.45},{"k":32,"t":16,"v":0.12},{"k":32,"t":20,"v":0.1},{"k":32,"t":24,"v":0.5},{"k":32,"t":28,"v":0.98},{"k":32,"t":32,"v":0.92},{"k":32,"t":36,"v":0.45},{"k":32,"t":40,"v":0.22},{"k":32,"t":44,"v":0.08},{"k":32,"t":48,"v":0.28},{"k":32,"t":52,"v":0.4},{"k":32,"t":56,"v":0.36},{"k":32,"t":60,"v":0.22},{"k":32,"t":64,"v":0.08},{"k":32,"t":68,"v":0.05},{"k":32,"t":72,"v":0.15},{"k":32,"t":76,"v":0.55},{"k":32,"t":80,"v":0.96},{"k":32,"t":84,"v":0.8},{"k":32,"t":88,"v":0.74},{"k":32,"t":90,"v":0.76},{"k":32,"t":92,"v":0.76},{"k":32,"t":94,"v":0.47},{"k":32,"t":96,"v":0.57},{"k":32,"t":98,"v":0.57},{"k":32,"t":99,"v":0.56},
{"k":13,"t":0,"v":0.7},{"k":13,"t":2,"v":0.6},{"k":13,"t":4,"v":0.5},{"k":13,"t":6,"v":0.42},{"k":13,"t":8,"v":0.3},{"k":13,"t":10,"v":0.22},{"k":13,"t":12,"v":0.2},{"k":13,"t":16,"v":0.3},{"k":13,"t":20,"v":0.55},{"k":13,"t":24,"v":0.78},{"k":13,"t":28,"v":0.83},{"k":13,"t":32,"v":0.81},{"k":13,"t":36,"v":0.79},{"k":13,"t":40,"v":0.74},{"k":13,"t":44,"v":0.73},{"k":13,"t":48,"v":0.69},{"k":13,"t":52,"v":0.72},{"k":13,"t":56,"v":0.85},{"k":13,"t":60,"v":0.8},{"k":13,"t":64,"v":0.6},{"k":13,"t":68,"v":0.35},{"k":13,"t":72,"v":0.12},{"k":13,"t":76,"v":0.03},{"k":13,"t":80,"v":0.05},{"k":13,"t":84,"v":0.2},{"k":13,"t":88,"v":0.45},{"k":13,"t":90,"v":0.6},{"k":13,"t":92,"v":0.68},{"k":13,"t":94,"v":0.8},{"k":13,"t":96,"v":0.72},{"k":13,"t":98,"v":0.9},{"k":13,"t":99,"v":0.85},
{"k":30,"t":0,"v":0.9},{"k":30,"t":2,"v":1.0},{"k":30,"t":4,"v":0.86},{"k":30,"t":6,"v":0.93},{"k":30,"t":8,"v":0.8},{"k":30,"t":10,"v":0.78},{"k":30,"t":12,"v":0.7},{"k":30,"t":16,"v":0.5},{"k":30,"t":20,"v":0.3},{"k":30,"t":24,"v":0.2},{"k":30,"t":28,"v":0.3},{"k":30,"t":32,"v":0.55},{"k":30,"t":36,"v":0.74},{"k":30,"t":40,"v":0.78},{"k":30,"t":44,"v":0.72},{"k":30,"t":48,"v":0.66},{"k":30,"t":52,"v":0.64},{"k":30,"t":56,"v":0.72},{"k":30,"t":60,"v":0.6},{"k":30,"t":64,"v":0.4},{"k":30,"t":68,"v":0.2},{"k":30,"t":72,"v":0.08},{"k":30,"t":76,"v":0.05},{"k":30,"t":80,"v":0.15},{"k":30,"t":84,"v":0.4},{"k":30,"t":88,"v":0.7},{"k":30,"t":90,"v":0.8},{"k":30,"t":92,"v":0.75},{"k":30,"t":94,"v":0.85},{"k":30,"t":96,"v":0.8},{"k":30,"t":98,"v":0.93},{"k":30,"t":99,"v":0.98},
{"k":0.5,"t":0,"v":0.99},{"k":0.5,"t":2,"v":0.7},{"k":0.5,"t":4,"v":0.68},{"k":0.5,"t":6,"v":0.62},{"k":0.5,"t":8,"v":0.3},{"k":0.5,"t":10,"v":0.29},{"k":0.5,"t":12,"v":0.18},{"k":0.5,"t":16,"v":0.02},{"k":0.5,"t":20,"v":0.01},{"k":0.5,"t":24,"v":0.12},{"k":0.5,"t":28,"v":0.32},{"k":0.5,"t":32,"v":0.56},{"k":0.5,"t":36,"v":0.79},{"k":0.5,"t":40,"v":0.95},{"k":0.5,"t":44,"v":1.0},{"k":0.5,"t":48,"v":0.92},{"k":0.5,"t":52,"v":0.74},{"k":0.5,"t":56,"v":0.5},{"k":0.5,"t":60,"v":0.26},{"k":0.5,"t":64,"v":0.08},{"k":0.5,"t":68,"v":0.0},{"k":0.5,"t":72,"v":0.05},{"k":0.5,"t":76,"v":0.21},{"k":0.5,"t":80,"v":0.44},{"k":0.5,"t":84,"v":0.68},{"k":0.5,"t":88,"v":0.82},{"k":0.5,"t":90,"v":1.0},{"k":0.5,"t":92,"v":0.89},{"k":0.5,"t":94,"v":1.0},{"k":0.5,"t":96,"v":0.86},{"k":0.5,"t":98,"v":1.0},{"k":0.5,"t":99,"v":0.83},
{"k":19.5,"t":0,"v":0.87},{"k":19.5,"t":2,"v":0.94},{"k":19.5,"t":4,"v":0.6},{"k":19.5,"t":6,"v":0.66},{"k":19.5,"t":8,"v":0.6},{"k":19.5,"t":10,"v":0.33},{"k":19.5,"t":12,"v":0.23},{"k":19.5,"t":16,"v":0.08},{"k":19.5,"t":20,"v":0.0},{"k":19.5,"t":24,"v":0.05},{"k":19.5,"t":28,"v":0.21},{"k":19.5,"t":32,"v":0.44},{"k":19.5,"t":36,"v":0.68},{"k":19.5,"t":40,"v":0.88},{"k":19.5,"t":44,"v":0.99},{"k":19.5,"t":48,"v":0.98},{"k":19.5,"t":52,"v":0.84},{"k":19.5,"t":56,"v":0.62},{"k":19.5,"t":60,"v":0.38},{"k":19.5,"t":64,"v":0.16},{"k":19.5,"t":68,"v":0.02},{"k":19.5,"t":72,"v":0.01},{"k":19.5,"t":76,"v":0.12},{"k":19.5,"t":80,"v":0.32},{"k":19.5,"t":84,"v":0.56},{"k":19.5,"t":88,"v":0.81},{"k":19.5,"t":90,"v":0.96},{"k":19.5,"t":92,"v":0.9},{"k":19.5,"t":94,"v":1.0},{"k":19.5,"t":96,"v":0.92},{"k":19.5,"t":98,"v":0.86},{"k":19.5,"t":99,"v":1.0},
{"k":6.5,"t":0,"v":1.0},{"k":6.5,"t":2,"v":0.8},{"k":6.5,"t":4,"v":0.91},{"k":6.5,"t":6,"v":0.63},{"k":6.5,"t":8,"v":0.64},{"k":6.5,"t":10,"v":0.4},{"k":6.5,"t":12,"v":0.35},{"k":6.5,"t":16,"v":0.12},{"k":6.5,"t":20,"v":0.01},{"k":6.5,"t":24,"v":0.02},{"k":6.5,"t":28,"v":0.16},{"k":6.5,"t":32,"v":0.38},{"k":6.5,"t":36,"v":0.62},{"k":6.5,"t":40,"v":0.84},{"k":6.5,"t":44,"v":0.98},{"k":6.5,"t":48,"v":0.99},{"k":6.5,"t":52,"v":0.88},{"k":6.5,"t":56,"v":0.68},{"k":6.5,"t":60,"v":0.44},{"k":6.5,"t":64,"v":0.21},{"k":6.5,"t":68,"v":0.05},{"k":6.5,"t":72,"v":0.0},{"k":6.5,"t":76,"v":0.08},{"k":6.5,"t":80,"v":0.26},{"k":6.5,"t":84,"v":0.5},{"k":6.5,"t":88,"v":0.64},{"k":6.5,"t":90,"v":0.81},{"k":6.5,"t":92,"v":1.0},{"k":6.5,"t":94,"v":0.92},{"k":6.5,"t":96,"v":1.0},{"k":6.5,"t":98,"v":1.0},{"k":6.5,"t":99,"v":0.88},
{"k":26.5,"t":0,"v":0.83},{"k":26.5,"t":2,"v":0.97},{"k":26.5,"t":4,"v":0.74},{"k":26.5,"t":6,"v":0.84},{"k":26.5,"t":8,"v":0.56},{"k":26.5,"t":10,"v":0.55},{"k":26.5,"t":12,"v":0.36},{"k":26.5,"t":16,"v":0.16},{"k":26.5,"t":20,"v":0.02},{"k":26.5,"t":24,"v":0.01},{"k":26.5,"t":28,"v":0.12},{"k":26.5,"t":32,"v":0.32},{"k":26.5,"t":36,"v":0.56},{"k":26.5,"t":40,"v":0.79},{"k":26.5,"t":44,"v":0.95},{"k":26.5,"t":48,"v":1.0},{"k":26.5,"t":52,"v":0.92},{"k":26.5,"t":56,"v":0.74},{"k":26.5,"t":60,"v":0.5},{"k":26.5,"t":64,"v":0.26},{"k":26.5,"t":68,"v":0.08},{"k":26.5,"t":72,"v":0.0},{"k":26.5,"t":76,"v":0.05},{"k":26.5,"t":80,"v":0.21},{"k":26.5,"t":84,"v":0.44},{"k":26.5,"t":88,"v":0.74},{"k":26.5,"t":90,"v":0.69},{"k":26.5,"t":92,"v":0.84},{"k":26.5,"t":94,"v":1.0},{"k":26.5,"t":96,"v":1.0},{"k":26.5,"t":98,"v":0.9},{"k":26.5,"t":99,"v":1.0},
{"k":12.5,"t":0,"v":1.0},{"k":12.5,"t":2,"v":1.0},{"k":12.5,"t":4,"v":0.82},{"k":12.5,"t":6,"v":0.87},{"k":12.5,"t":8,"v":0.58},{"k":12.5,"t":10,"v":0.62},{"k":12.5,"t":12,"v":0.4},{"k":12.5,"t":16,"v":0.21},{"k":12.5,"t":20,"v":0.05},{"k":12.5,"t":24,"v":0.0},{"k":12.5,"t":28,"v":0.08},{"k":12.5,"t":32,"v":0.26},{"k":12.5,"t":36,"v":0.5},{"k":12.5,"t":40,"v":0.74},{"k":12.5,"t":44,"v":0.92},{"k":12.5,"t":48,"v":1.0},{"k":12.5,"t":52,"v":0.95},{"k":12.5,"t":56,"v":0.79},{"k":12.5,"t":60,"v":0.56},{"k":12.5,"t":64,"v":0.32},{"k":12.5,"t":68,"v":0.12},{"k":12.5,"t":72,"v":0.01},{"k":12.5,"t":76,"v":0.02},{"k":12.5,"t":80,"v":0.16},{"k":12.5,"t":84,"v":0.38},{"k":12.5,"t":88,"v":0.58},{"k":12.5,"t":90,"v":0.8},{"k":12.5,"t":92,"v":0.72},{"k":12.5,"t":94,"v":0.87},{"k":12.5,"t":96,"v":1.0},{"k":12.5,"t":98,"v":1.0},{"k":12.5,"t":99,"v":0.92},
{"k":2.5,"t":0,"v":0.92},{"k":2.5,"t":2,"v":0.86},{"k":2.5,"t":4,"v":1.0},{"k":2.5,"t":6,"v":0.74},{"k":2.5,"t":8,"v":0.79},{"k":2.5,"t":10,"v":0.56},{"k":2.5,"t":12,"v":0.54},{"k":2.5,"t":16,"v":0.26},{"k":2.5,"t":20,"v":0.08},{"k":2.5,"t":24,"v":0.0},{"k":2.5,"t":28,"v":0.05},{"k":2.5,"t":32,"v":0.21},{"k":2.5,"t":36,"v":0.44},{"k":2.5,"t":40,"v":0.68},{"k":2.5,"t":44,"v":0.88},{"k":2.5,"t":48,"v":0.99},{"k":2.5,"t":52,"v":0.98},{"k":2.5,"t":56,"v":0.84},{"k":2.5,"t":60,"v":0.62},{"k":2.5,"t":64,"v":0.38},{"k":2.5,"t":68,"v":0.16},{"k":2.5,"t":72,"v":0.02},{"k":2.5,"t":76,"v":0.01},{"k":2.5,"t":80,"v":0.12},{"k":2.5,"t":84,"v":0.32},{"k":2.5,"t":88,"v":0.6},{"k":2.5,"t":90,"v":0.6},{"k":2.5,"t":92,"v":0.85},{"k":2.5,"t":94,"v":0.78},{"k":2.5,"t":96,"v":1.0},{"k":2.5,"t":98,"v":0.93},{"k":2.5,"t":99,"v":1.0},
{"k":23.5,"t":0,"v":1.0},{"k":23.5,"t":2,"v":0.95},{"k":23.5,"t":4,"v":1.0},{"k":23.5,"t":6,"v":1.0},{"k":23.5,"t":8,"v":0.71},{"k":23.5,"t":10,"v":0.71},{"k":23.5,"t":12,"v":0.58},{"k":23.5,"t":16,"v":0.32},{"k":23.5,"t":20,"v":0.12},{"k":23.5,"t":24,"v":0.01},{"k":23.5,"t":28,"v":0.02},{"k":23.5,"t":32,"v":0.16},{"k":23.5,"t":36,"v":0.38},{"k":23.5,"t":40,"v":0.62},{"k":23.5,"t":44,"v":0.84},{"k":23.5,"t":48,"v":0.98},{"k":23.5,"t":52,"v":0.99},{"k":23.5,"t":56,"v":0.88},{"k":23.5,"t":60,"v":0.68},{"k":23.5,"t":64,"v":0.44},{"k":23.5,"t":68,"v":0.21},{"k":23.5,"t":72,"v":0.05},{"k":23.5,"t":76,"v":0.0},{"k":23.5,"t":80,"v":0.08},{"k":23.5,"t":84,"v":0.26},{"k":23.5,"t":88,"v":0.4},{"k":23.5,"t":90,"v":0.59},{"k":23.5,"t":92,"v":0.82},{"k":23.5,"t":94,"v":0.78},{"k":23.5,"t":96,"v":0.97},{"k":23.5,"t":98,"v":1.0},{"k":23.5,"t":99,"v":0.89},
{"k":9.5,"t":0,"v":0.93},{"k":9.5,"t":2,"v":1.0},{"k":9.5,"t":4,"v":0.85},{"k":9.5,"t":6,"v":0.99},{"k":9.5,"t":8,"v":0.98},{"k":9.5,"t":10,"v":0.74},{"k":9.5,"t":12,"v":0.65},{"k":9.5,"t":16,"v":0.44},{"k":9.5,"t":20,"v":0.21},{"k":9.5,"t":24,"v":0.05},{"k":9.5,"t":28,"v":0.0},{"k":9.5,"t":32,"v":0.08},{"k":9.5,"t":36,"v":0.26},{"k":9.5,"t":40,"v":0.5},{"k":9.5,"t":44,"v":0.74},{"k":9.5,"t":48,"v":0.92},{"k":9.5,"t":52,"v":1.0},{"k":9.5,"t":56,"v":0.95},{"k":9.5,"t":60,"v":0.79},{"k":9.5,"t":64,"v":0.56},{"k":9.5,"t":68,"v":0.32},{"k":9.5,"t":72,"v":0.12},{"k":9.5,"t":76,"v":0.01},{"k":9.5,"t":80,"v":0.02},{"k":9.5,"t":84,"v":0.16},{"k":9.5,"t":88,"v":0.32},{"k":9.5,"t":90,"v":0.55},{"k":9.5,"t":92,"v":0.52},{"k":9.5,"t":94,"v":0.8},{"k":9.5,"t":96,"v":0.72},{"k":9.5,"t":98,"v":1.0},{"k":9.5,"t":99,"v":0.9}
]
},
"layer": [
{
"data": {"name": "band"},
"mark": {"type": "area", "interpolate": "monotone", "fill": "gray", "fillOpacity": 0.5, "stroke": "gray", "strokeOpacity": 0.5, "strokeWidth": 1},
"encoding": {
"x": {"field": "t", "type": "quantitative", "scale": {"domain": [-4.95, 103.95], "nice": false, "zero": false}, "axis": {"title": "Time Step", "values": [0, 20, 40, 60, 80, 100], "titlePadding": 4}},
"y": {"field": "lo", "type": "quantitative", "scale": {"domain": [-0.0674, 1.1315], "nice": false, "zero": false}, "axis": {"title": "Activation", "values": [0, 0.2, 0.4, 0.6, 0.8, 1.0], "format": ".1f", "titlePadding": 8}},
"y2": {"field": "hi"}
}
},
{
"data": {"name": "lines"},
"transform": [{"filter": "datum.t >= 12 && datum.t <= 88"}],
"mark": {"type": "line", "interpolate": "monotone", "strokeWidth": 2, "opacity": 0.4},
"encoding": {
"x": {"field": "t", "type": "quantitative", "title": "Time Step"},
"y": {"field": "v", "type": "quantitative", "title": "Activation"},
"detail": {"field": "k", "type": "nominal"},
"color": {"field": "k", "type": "quantitative", "scale": {"scheme": "viridis", "domain": [0, 33]}, "legend": null}
}
},
{
"data": {"name": "lines"},
"transform": [{"filter": "datum.t <= 12"}],
"mark": {"type": "line", "strokeWidth": 2, "opacity": 0.4},
"encoding": {
"x": {"field": "t", "type": "quantitative", "title": "Time Step"},
"y": {"field": "v", "type": "quantitative", "title": "Activation"},
"detail": {"field": "k", "type": "nominal"},
"color": {"field": "k", "type": "quantitative", "scale": {"scheme": "viridis", "domain": [0, 33]}, "legend": null}
}
},
{
"data": {"name": "lines"},
"transform": [{"filter": "datum.t >= 88"}],
"mark": {"type": "line", "strokeWidth": 2, "opacity": 0.4},
"encoding": {
"x": {"field": "t", "type": "quantitative", "title": "Time Step"},
"y": {"field": "v", "type": "quantitative", "title": "Activation"},
"detail": {"field": "k", "type": "nominal"},
"color": {"field": "k", "type": "quantitative", "scale": {"scheme": "viridis", "domain": [0, 33]}, "legend": null}
}
}
]
}
